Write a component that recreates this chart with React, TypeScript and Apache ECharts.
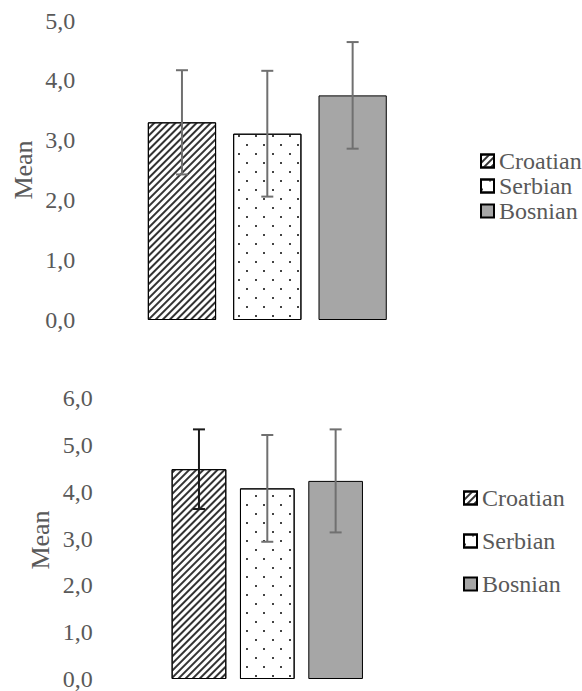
import React, { useEffect, useRef } from "react";
import * as echarts from "echarts";

const categories = ["Croatian", "Serbian", "Bosnian"];
const means1 = [3.3, 3.11, 3.75];
const sd1 = [0.87, 1.05, 0.89];
const means2 = [4.48, 4.07, 4.23];
const sd2 = [0.85, 1.14, 1.1];
const yTicks1 = [0, 1, 2, 3, 4, 5];
const yTicks2 = [0, 1, 2, 3, 4, 5, 6];

const FONT = "Liberation Serif";
const TXT = "#595959";

const decals: any[] = [
  {
    symbol: "rect",
    symbolSize: 1,
    color: "#333333",
    dashArrayX: [1, 0],
    dashArrayY: [1.1, 2.4],
    rotation: -Math.PI / 4,
  },
  {
    symbol: "rect",
    symbolSize: 1,
    color: "#444444",
    dashArrayX: [
      [1.6, 14.4],
      [0, 8, 1.6, 6.4],
    ],
    dashArrayY: [1.6, 6.4],
    rotation: 0,
  },
  null,
];
const fills = ["#ffffff", "#ffffff", "#a6a6a6"];
const errColors1 = ["#707070", "#707070", "#707070"];
const errColors2 = ["#1a1a1a", "#707070", "#707070"];

function fmt(v: number) {
  return v.toFixed(1).replace(".", ",");
}

function barSeries(means: number[], idx: number) {
  return categories.map((name, i) => ({
    name,
    type: "bar",
    xAxisIndex: idx,
    yAxisIndex: idx,
    stack: "s" + idx,
    barWidth: "80%",
    data: categories.map((_, j) => (j === i ? means[i] : null)),
    itemStyle: {
      color: fills[i],
      borderColor: "#000000",
      borderWidth: 1,
      decal: decals[i] || undefined,
    },
  }));
}

function errSeries(means: number[], sds: number[], idx: number, colors: string[]) {
  return {
    type: "custom",
    xAxisIndex: idx,
    yAxisIndex: idx,
    z: 10,
    data: means.map((m, i) => [i, m - sds[i], m + sds[i]]),
    renderItem: (params: any, api: any) => {
      const i = api.value(0);
      const lo = api.coord([i, api.value(1)]);
      const hi = api.coord([i, api.value(2)]);
      const half = 6;
      const style = { stroke: colors[params.dataIndex], lineWidth: 2 };
      return {
        type: "group",
        children: [
          { type: "line", shape: { x1: hi[0], y1: hi[1], x2: lo[0], y2: lo[1] }, style },
          { type: "line", shape: { x1: hi[0] - half, y1: hi[1], x2: hi[0] + half, y2: hi[1] }, style },
          { type: "line", shape: { x1: lo[0] - half, y1: lo[1], x2: lo[0] + half, y2: lo[1] }, style },
        ],
      };
    },
  };
}

function yAxis(ticks: number[], idx: number, margin: number) {
  return {
    type: "value",
    gridIndex: idx,
    min: ticks[0],
    max: ticks[ticks.length - 1],
    interval: 1,
    axisLine: { show: false },
    axisTick: { show: false },
    splitLine: { show: false },
    axisLabel: {
      formatter: (v: number) => fmt(v),
      color: TXT,
      fontFamily: FONT,
      fontSize: 24,
      margin,
    },
  };
}

function xAxis(idx: number) {
  return {
    type: "category",
    gridIndex: idx,
    data: categories,
    axisLine: { show: false },
    axisTick: { show: false },
    axisLabel: { show: false },
    splitLine: { show: false },
  };
}

export default function App() {
  const ref = useRef<HTMLDivElement>(null);
  useEffect(() => {
    if (!ref.current) return;
    const chart = echarts.init(ref.current, undefined, { renderer: "svg" });
    const legendBase = {
      orient: "vertical",
      data: categories,
      icon: "rect",
      itemWidth: 13,
      itemHeight: 13,
      selectedMode: false,
      textStyle: { color: TXT, fontFamily: FONT, fontSize: 24 },
    };
    const meanText = (x: number, y: number) => ({
      type: "text",
      x,
      y,
      rotation: Math.PI / 2,
      style: {
        text: "Mean",
        fill: TXT,
        fontFamily: FONT,
        fontSize: 26,
        align: "center",
        verticalAlign: "middle",
      },
    });
    chart.setOption({
      animation: false,
      grid: [
        { left: 139.3, width: 256, top: 20.5, height: 299.5 },
        { left: 164.8, width: 205, top: 398, height: 284 },
      ],
      xAxis: [xAxis(0), xAxis(1)],
      yAxis: [yAxis(yTicks1, 0, 64), yAxis(yTicks2, 1, 72)],
      legend: [
        { ...legendBase, left: 475, top: 144, itemGap: 1 },
        { ...legendBase, left: 458, top: 481, itemGap: 19 },
      ],
      graphic: [meanText(23, 170), meanText(40, 540)],
      series: [
        ...barSeries(means1, 0),
        ...barSeries(means2, 1),
        errSeries(means1, sd1, 0, errColors1),
        errSeries(means2, sd2, 1, errColors2),
      ],
    });
    return () => chart.dispose();
  }, []);
  return (
    <div
      ref={ref}
      style={{ position: "absolute", left: 0, top: 0, width: 582, height: 691 }}
    />
  );
}
